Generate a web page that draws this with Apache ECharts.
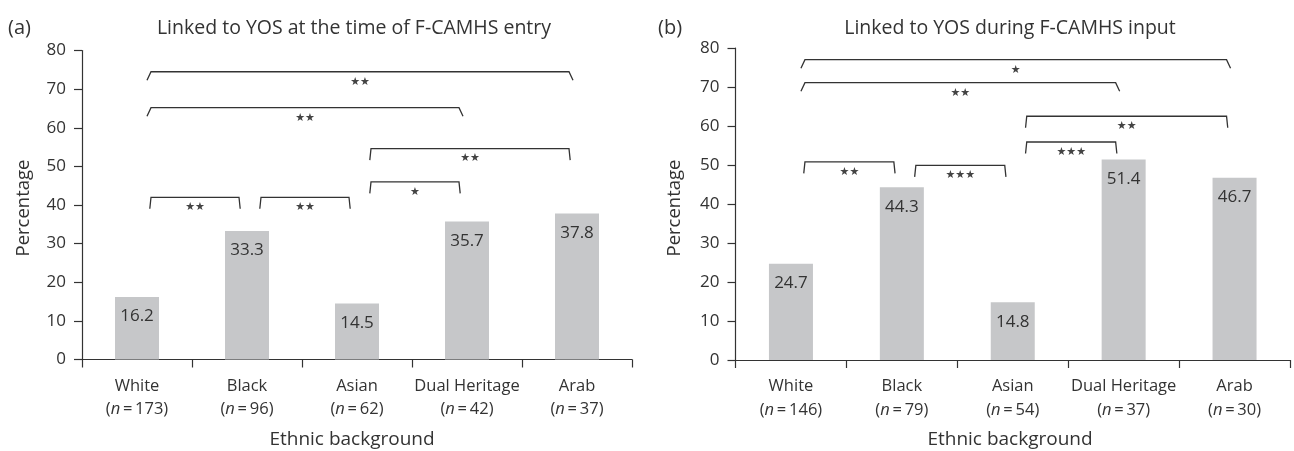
<!DOCTYPE html>
<html>
<head>
<meta charset="utf-8">
<script src="https://cdn.jsdelivr.net/npm/echarts@6/dist/echarts.min.js"></script>
<style>html,body{margin:0;padding:0;background:#fff}#c{width:1294px;height:451px}</style>
</head>
<body>
<div id="c"></div>
<script>
// ---- data ----
const categories = ['White', 'Black', 'Asian', 'Dual Heritage', 'Arab'];
const nA = [173, 96, 62, 42, 37];
const nB = [146, 79, 54, 37, 30];
const valuesA = [16.2, 33.3, 14.5, 35.7, 37.8];
const valuesB = [24.7, 44.3, 14.8, 51.4, 46.7];
const yTicks = [0, 10, 20, 30, 40, 50, 60, 70, 80];
// brackets: [fromIndex, toIndex, level]
const bracketsA = [[0, 4, 74.5], [0, 3, 65.2], [2, 4, 54.6], [2, 3, 46.0], [0, 1, 42.0], [1, 2, 42.0]];
const starsA = ['★★', '★★', '★★', '★', '★★', '★★'];
const bracketsB = [[0, 4, 77.0], [0, 3, 71.1], [2, 4, 62.5], [2, 3, 55.9], [0, 1, 50.8], [1, 2, 49.9]];
const starsB = ['★', '★★', '★★', '★★★', '★★', '★★★'];
const titleA = 'Linked to YOS at the time of F-CAMHS entry';
const titleB = 'Linked to YOS during F-CAMHS input';
const panelA = '(a)';
const panelB = '(b)';
const yName = 'Percentage';
const xName = 'Ethnic background';

// ---- styles ----
const FONT = '"Open Sans"';
const TXT = '#333';
const BAR = '#c6c7c9';

function catLabels(ns) {
  return categories.map((c, i) => c + '\n{p|(}{i|n}{p|\u2009=\u2009' + ns[i] + ')}');
}

function makeBracketRenderer(stars) {
  return function (params, api) {
    const from = api.value(0), to = api.value(1), lvl = api.value(2);
    const p1 = api.coord([from, lvl]);
    const p2 = api.coord([to, lvl]);
    const wide = (to - from) >= 3;
    const leg = wide ? 8.5 : 11.5;
    const splay = wide ? 4 : 1.2;
    const x1 = p1[0] + 14, x2 = p2[0] - 8, y = p1[1];
    return {
      type: 'group',
      children: [
        { type: 'polyline',
          shape: { points: [[x1 - splay, y + leg], [x1, y], [x2, y], [x2 + splay, y + leg]] },
          style: { stroke: '#333', lineWidth: 1.3, fill: null } },
        { type: 'text',
          style: { text: stars[params.dataIndex], x: (x1 + x2) / 2, y: y + 10,
                   align: 'center', verticalAlign: 'middle',
                   font: '11px "DejaVu Sans"', fill: '#444' } }
      ]
    };
  };
}

function xAxisCfg(gridIndex, ns) {
  return {
    type: 'category', gridIndex: gridIndex, data: catLabels(ns),
    axisLine: { lineStyle: { color: '#333', width: 1.2 } },
    axisTick: { show: true, length: 8, alignWithLabel: false, lineStyle: { color: '#333', width: 1.2 } },
    axisLabel: {
      interval: 0, margin: 15, fontFamily: FONT, fontSize: 16.5, color: TXT, lineHeight: 23.5,
      rich: {
        p: { fontFamily: FONT, fontSize: 16.5, color: TXT, lineHeight: 23.5 },
        i: { fontFamily: FONT, fontSize: 16.5, color: TXT, fontStyle: 'italic', lineHeight: 23.5 }
      }
    },
    splitLine: { show: false }
  };
}

function yAxisCfg(gridIndex) {
  return {
    type: 'value', gridIndex: gridIndex, min: yTicks[0], max: yTicks[yTicks.length - 1], interval: 10,
    axisLine: { show: true, lineStyle: { color: '#333', width: 1.2 } },
    axisTick: { show: true, length: 8, lineStyle: { color: '#333', width: 1.2 } },
    axisLabel: { margin: 16, fontFamily: FONT, fontSize: 17, color: TXT },
    splitLine: { show: false }
  };
}

function barSeries(idx, values) {
  return {
    type: 'bar', xAxisIndex: idx, yAxisIndex: idx, data: values, barWidth: 44,
    itemStyle: { color: BAR },
    label: { show: true, position: 'insideTop', distance: 11, fontFamily: FONT, fontSize: 17, color: TXT,
             formatter: p => p.value.toFixed(1) },
    silent: true, animation: false
  };
}

function bracketSeries(idx, brackets, stars) {
  return {
    type: 'custom', xAxisIndex: idx, yAxisIndex: idx, data: brackets,
    renderItem: makeBracketRenderer(stars), silent: true, animation: false, z: 5
  };
}

function txt(text, x, y, size, align, rot) {
  return { type: 'text', x: x, y: y, rotation: rot || 0, silent: true,
           style: { text: text, font: size + 'px ' + FONT, fill: TXT, align: align, verticalAlign: 'middle' } };
}

const chart = echarts.init(document.getElementById('c'), null, { renderer: 'canvas' });
chart.setOption({
  animation: false,
  backgroundColor: '#fff',
  graphic: [
    txt(panelA, 8, 28, 20, 'left'),
    txt(titleA, 354, 28, 19.5, 'center'),
    txt(panelB, 658, 28, 20, 'left'),
    txt(titleB, 1010, 28, 19.5, 'center'),
    txt(yName, 24, 208, 18.5, 'center', Math.PI / 2),
    txt(yName, 675, 208, 18.5, 'center', Math.PI / 2),
    txt(xName, 352, 440, 19, 'center'),
    txt(xName, 1010, 440, 19, 'center')
  ],
  grid: [
    { left: 82, top: 50.5, width: 550, height: 309, outerBoundsMode: 'none' },
    { left: 735.5, top: 48, width: 554.5, height: 312, outerBoundsMode: 'none' }
  ],
  xAxis: [xAxisCfg(0, nA), xAxisCfg(1, nB)],
  yAxis: [yAxisCfg(0), yAxisCfg(1)],
  series: [
    barSeries(0, valuesA), barSeries(1, valuesB),
    bracketSeries(0, bracketsA, starsA), bracketSeries(1, bracketsB, starsB)
  ]
});
</script>
</body>
</html>
